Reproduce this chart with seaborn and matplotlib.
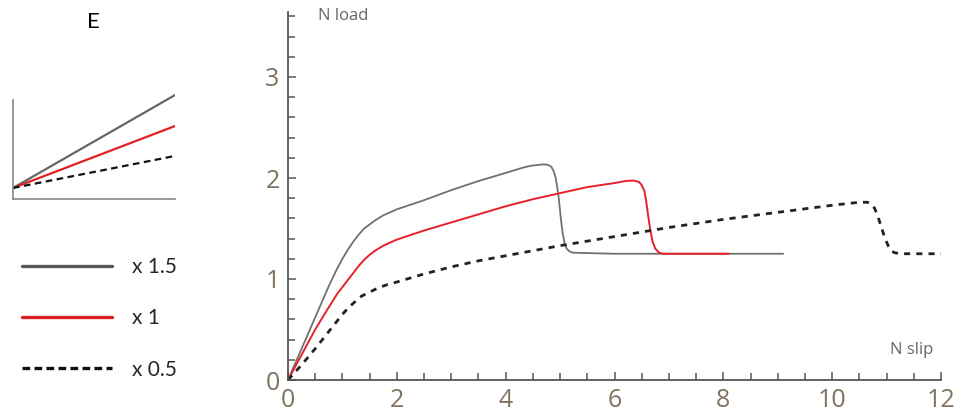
import numpy as np
import pandas as pd
import matplotlib.pyplot as plt
import seaborn as sns
from matplotlib.ticker import MultipleLocator
from matplotlib.lines import Line2D

# main curves: load vs slip for three stiffness factors
gray_x = [0, 0.25, 0.5, 0.75, 0.9, 1.0, 1.1, 1.2, 1.3, 1.4, 1.5, 1.6, 1.75, 2.0, 2.5, 3.0, 3.5, 4.0,
          4.3, 4.45, 4.6, 4.7, 4.78, 4.84, 4.88, 4.92, 4.95, 4.98, 5.01, 5.04, 5.08, 5.12, 5.18, 5.25,
          6.0, 7.0, 8.0, 9.1]
gray_y = [0, 0.31, 0.62, 0.93, 1.1, 1.2, 1.29, 1.37, 1.44, 1.5, 1.54, 1.58, 1.63, 1.69, 1.78, 1.88, 1.97, 2.05,
          2.10, 2.12, 2.13, 2.135, 2.13, 2.11, 2.07, 2.0, 1.9, 1.78, 1.62, 1.48, 1.36, 1.30, 1.27, 1.26,
          1.25, 1.25, 1.25, 1.25]

red_x = [0, 0.25, 0.5, 0.75, 0.9, 1.0, 1.1, 1.2, 1.3, 1.4, 1.5, 1.6, 1.75, 2.0, 2.5, 3.0, 3.5, 4.0, 4.5,
         5.0, 5.5, 6.0, 6.2, 6.35, 6.45, 6.5, 6.55, 6.58, 6.62, 6.66, 6.7, 6.75, 6.82, 6.9, 7.5, 8.1]
red_y = [0, 0.25, 0.5, 0.72, 0.85, 0.92, 0.99, 1.06, 1.13, 1.19, 1.24, 1.28, 1.33, 1.39, 1.48, 1.56, 1.64, 1.72, 1.79,
         1.85, 1.91, 1.95, 1.97, 1.975, 1.96, 1.93, 1.87, 1.78, 1.62, 1.48, 1.37, 1.30, 1.26, 1.25, 1.25, 1.25]

dash_x = [0, 0.25, 0.5, 0.75, 1.0, 1.1, 1.2, 1.35, 1.5, 1.65, 1.8, 2.0, 2.5, 3.0, 3.5, 4.0, 5.0, 6.0, 7.0,
          8.0, 9.0, 10.0, 10.5, 10.65, 10.72, 10.78, 10.84, 10.9, 10.96, 11.02, 11.08, 11.15, 11.25, 12.0]
dash_y = [0, 0.15, 0.31, 0.48, 0.65, 0.71, 0.76, 0.83, 0.87, 0.91, 0.94, 0.97, 1.05, 1.12, 1.18, 1.23, 1.33, 1.42, 1.51,
          1.59, 1.66, 1.73, 1.76, 1.76, 1.74, 1.70, 1.62, 1.52, 1.42, 1.34, 1.28, 1.26, 1.25, 1.25]

# small schematic in the left panel
inset_x = [0, 1]
inset_gray = [0.105, 0.99]
inset_red = [0.105, 0.695]
inset_dash = [0.105, 0.41]

labels = ['x 1.5', 'x 1', 'x 0.5']

sns.set_style('ticks')
plt.rcParams['font.family'] = ['Open Sans', 'DejaVu Sans']

W, H = 957, 420
fig = plt.figure(figsize=(W / 100, H / 100), dpi=100)

# ---- main axes
ax = fig.add_axes([288 / W, 1 - 380 / H, (941 - 288) / W, (380 - 12) / H])
sns.lineplot(x=gray_x, y=gray_y, ax=ax, color='#707070', lw=1.3)
sns.lineplot(x=red_x, y=red_y, ax=ax, color='#e8202a', lw=1.4)
sns.lineplot(x=dash_x, y=dash_y, ax=ax, color='#222222', lw=2.0, linestyle=(0, (2.2, 2.2)))

ax.set_xlim(0, 12)
ax.set_ylim(0, 368 / 101)
ax.xaxis.set_major_locator(MultipleLocator(2))
ax.xaxis.set_minor_locator(MultipleLocator(0.5))
ax.yaxis.set_major_locator(MultipleLocator(1))
ax.yaxis.set_minor_locator(MultipleLocator(0.2))
for s in ['top', 'right']:
    ax.spines[s].set_visible(False)
for s in ['left', 'bottom']:
    ax.spines[s].set_color('#555555')
    ax.spines[s].set_linewidth(1.3)
ax.tick_params(which='both', direction='in', color='#555555', width=1.1, bottom=True, left=True,
               labelsize=18, labelcolor='#80725f', pad=6)
ax.tick_params(which='major', length=6)
ax.tick_params(which='minor', length=5)
ax.set_xlabel('')
ax.set_ylabel('')
ax.text(30 / 653, 1 - 4 / 368, 'N load', transform=ax.transAxes, ha='left', va='center',
        fontsize=12, color='#666666')
ax.text(645 / 653, 30 / 368, 'N slip', transform=ax.transAxes, ha='right', va='center',
        fontsize=12, color='#666666')

# ---- left panel
fig.text(93 / W, 1 - 22 / H, 'E', ha='center', va='center', fontsize=16, color='black',
         family=['Lato', 'DejaVu Sans'])

ins = fig.add_axes([13 / W, 1 - 199 / H, (175 - 13) / W, (199 - 94) / H])
ins.set_facecolor('none')
ins.plot(inset_x, inset_gray, color='#666666', lw=1.6)
ins.plot(inset_x, inset_red, color='#e02020', lw=1.6)
ins.plot(inset_x, inset_dash, color='#111111', lw=1.6, linestyle=(0, (3, 2)))
ins.set_xlim(0, 1)
ins.set_ylim(0, 1)
ins.set_xticks([])
ins.set_yticks([])
for s in ['top', 'right']:
    ins.spines[s].set_visible(False)
for s in ['left', 'bottom']:
    ins.spines[s].set_color('#888888')
    ins.spines[s].set_linewidth(1.2)
ins.spines['left'].set_bounds(0, 99 / 105)

# legend lines drawn thicker than the schematic
lh = [Line2D([], [], color='#595959', lw=2.4),
      Line2D([], [], color='#e02020', lw=2.4),
      Line2D([], [], color='#111111', lw=2.4, linestyle=(0, (2.3, 1.3)))]
fig.legend(lh, labels, loc='upper left', bbox_to_anchor=(22 / W, 1 - 257 / H), frameon=False,
           borderpad=0, borderaxespad=0, handlelength=4.3, handletextpad=1.0, labelspacing=1.5,
           prop={'family': ['Lato', 'DejaVu Sans'], 'size': 15})

plt.savefig('out.png', dpi=100)
